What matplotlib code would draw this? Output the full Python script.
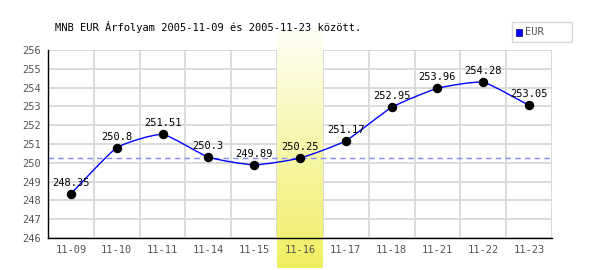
import numpy as np
import matplotlib
matplotlib.use("Agg")
import matplotlib.pyplot as plt
from matplotlib.path import Path
from matplotlib.patches import PathPatch, Rectangle

# EUR exchange rates (MNB), 2005-11-09 .. 2005-11-23
dates = ["11-09", "11-10", "11-11", "11-14", "11-15", "11-16",
         "11-17", "11-18", "11-21", "11-22", "11-23"]
rates = [248.35, 250.8, 251.51, 250.3, 249.89, 250.25,
         251.17, 252.95, 253.96, 254.28, 253.05]
ref_rate = 250.25
highlight = "11-16"
title = "MNB EUR Árfolyam 2005-11-09 és 2005-11-23 között."

font = "DejaVu Sans Mono"

fig = plt.figure(figsize=(6, 2.7), dpi=100)
ax = fig.add_axes([48 / 600, 1 - 238 / 270, 504 / 600, 188 / 270])
ax.set_xlim(-0.5, len(dates) - 0.5)
ax.set_ylim(246, 256)

# grid
for v in range(246, 257):
    ax.axhline(v, color="#d8d8d8", lw=1.3, zorder=0)
for i in range(len(dates)):
    ax.axvline(i + 0.5, color="#d8d8d8", lw=1.3, zorder=0)

# highlighted day: vertical gradient band
hi = dates.index(highlight)
px = 188 / 10.0
grad = np.linspace(0, 1, 256).reshape(-1, 1)
cmap = matplotlib.colors.LinearSegmentedColormap.from_list("yl", ["#fefef4", "#f0ee60"])
ax.imshow(grad, cmap=cmap, aspect="auto", origin="upper",
          extent=[hi - 0.5, hi + 0.5, 246 - 30 / px, 256 + 20 / px],
          clip_on=False, zorder=0.5)

# reference dashed line
ax.axhline(ref_rate, color="#8888ff", lw=1, ls=(0, (4, 3)), zorder=1)

# lightly smoothed line (Catmull-Rom as Bezier segments)
x = np.arange(len(rates), dtype=float)
y = np.array(rates)
verts = [(x[0], y[0])]
codes = [Path.MOVETO]
t = 0.25
for i in range(len(x) - 1):
    p0 = (x[max(i - 1, 0)], y[max(i - 1, 0)])
    p1 = (x[i], y[i])
    p2 = (x[i + 1], y[i + 1])
    p3 = (x[min(i + 2, len(x) - 1)], y[min(i + 2, len(x) - 1)])
    c1 = (p1[0] + (p2[0] - p0[0]) * t / 3, p1[1] + (p2[1] - p0[1]) * t / 3)
    c2 = (p2[0] - (p3[0] - p1[0]) * t / 3, p2[1] - (p3[1] - p1[1]) * t / 3)
    verts += [c1, c2, p2]
    codes += [Path.CURVE4] * 3
ax.add_patch(PathPatch(Path(verts, codes), fill=False, edgecolor="#0000ff", lw=1, zorder=2))

ax.plot(x, y, "o", color="black", ms=5.8, zorder=3)
for xi, yi in zip(x, rates):
    ax.annotate(f"{yi:g}", (xi, yi), xytext=(0, 4.5), textcoords="offset points",
                ha="center", va="bottom", fontsize=7.5, family=font, color="black", zorder=4)

ax.set_xticks(x)
ax.set_xticklabels(dates)
ax.set_yticks(range(246, 257))
ax.tick_params(length=0, labelsize=7.5, labelcolor="#555555", pad=5)
for lbl in ax.get_xticklabels() + ax.get_yticklabels():
    lbl.set_family(font)

for s in ["top", "right"]:
    ax.spines[s].set_visible(False)
for s in ["left", "bottom"]:
    ax.spines[s].set_color("black")
    ax.spines[s].set_linewidth(1)
    ax.spines[s].set_zorder(5)

fig.text(55 / 600, 1 - 27 / 270, title, fontsize=7.5, family=font, va="center", ha="left")

# legend box
fig.patches.append(Rectangle((512 / 600, 1 - 42 / 270), 60 / 600, 20 / 270,
                             transform=fig.transFigure, facecolor="white",
                             edgecolor="#d8d8d8", lw=1))
fig.patches.append(Rectangle((516 / 600, 1 - 35.5 / 270), 6 / 600, 6 / 270,
                             transform=fig.transFigure, facecolor="#0000ff",
                             edgecolor="#000080", lw=0.5))
fig.text(525 / 600, 1 - 32 / 270, "EUR", fontsize=7.5, family=font, color="#555555", va="center")

fig.savefig("out.png", dpi=100)
